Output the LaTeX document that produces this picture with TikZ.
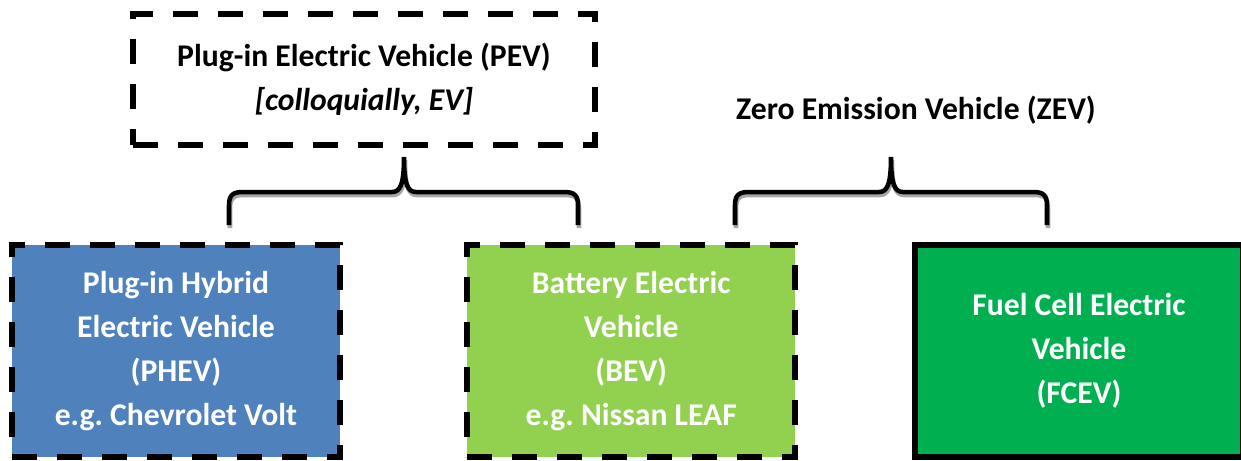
\documentclass[tikz,border=0pt]{standalone}
\usepackage{fontspec}
\setmainfont{Carlito}
\frenchspacing
\usetikzlibrary{positioning, calc}
\definecolor{phevblue}{HTML}{4F81BD}
\definecolor{bevgreen}{HTML}{92D050}
\definecolor{fcevgreen}{HTML}{00B050}
\tikzset{
  txt/.style    = {font=\fontsize{9}{12.5}\selectfont\bfseries, align=center, inner sep=0pt},
  dbox/.style   = {txt, draw=black, line width=0.06cm, dash pattern=on 0.25cm off 0.2cm},
  cat/.style    = {dbox, minimum width=3.28cm, minimum height=2.12cm, text=white},
  brc/.style    = {line width=0.045cm, draw=black},
  brcsh/.style  = {line width=0.045cm, draw=black!35}
}
\begin{document}
\begin{tikzpicture}[x=0.01cm, y=-0.01cm]
\useasboundingbox (0,0) rectangle (1241,460);
%% ===== top row =====
\node[dbox, minimum width=4.62cm, minimum height=1.31cm] (pev) at (364,79.5)
  {Plug-in Electric Vehicle (PEV)\\ \textit{[colloquially, EV]}};
\node[txt] (zev) at (916,110) {Zero Emission Vehicle (ZEV)};
%% ===== bottom row =====
\node[cat, fill=phevblue] (phev) at (176,351)
  {Plug-in Hybrid\\ Electric Vehicle\\ (PHEV)\\ e.g. Chevrolet Volt};
\node[cat, fill=bevgreen, right=1.21cm of phev] (bev)
  {Battery Electric\\ Vehicle\\ (BEV)\\ e.g. Nissan LEAF};
\node[cat, fill=fcevgreen, solid, minimum width=3.27cm, right=1.14cm of bev] (fcev)
  {Fuel Cell Electric\\ Vehicle\\ (FCEV)};
%% ===== braces (shadow first) =====
\foreach \l/\t/\r in {229/404/578, 735/891/1047}{
  \foreach \st/\dx/\dy in {brcsh/1/3, brc/0/0}{
    \begin{scope}[shift={(\dx,\dy)}]
      \draw[\st] (\l,225) -- (\l,205) .. controls (\l,195) and (\l+4,192) .. (\l+14,192)
        -- (\t-12,192) .. controls (\t-4,192) and (\t,185) .. (\t,157)
        .. controls (\t,185) and (\t+4,192) .. (\t+12,192)
        -- (\r-14,192) .. controls (\r-4,192) and (\r,195) .. (\r,205) -- (\r,225);
    \end{scope}
  }
}
\end{tikzpicture}
\end{document}
